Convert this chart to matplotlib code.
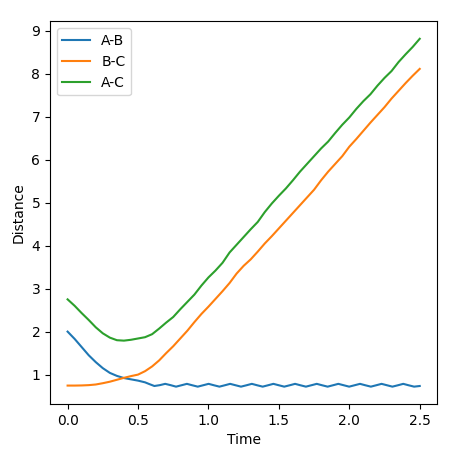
import numpy as np
import matplotlib
matplotlib.use('Agg')
import matplotlib.pyplot as plt

# A-B distance (own time points, oscillation after t~0.6)
t_ab = [0.0, 0.05, 0.10, 0.15, 0.20, 0.25, 0.30, 0.35, 0.40, 0.45, 0.50, 0.55, 0.58,
        0.616, 0.655, 0.693, 0.731, 0.770, 0.808, 0.847, 0.885, 0.924, 0.962,
        1.001, 1.039, 1.078, 1.116, 1.154, 1.193, 1.231, 1.270, 1.308, 1.346,
        1.385, 1.423, 1.461, 1.500, 1.538, 1.577, 1.615, 1.653, 1.692, 1.730,
        1.769, 1.807, 1.846, 1.884, 1.922, 1.961, 1.999, 2.037, 2.076, 2.114,
        2.153, 2.191, 2.229, 2.268, 2.306, 2.345, 2.383, 2.421, 2.460, 2.500]
ab = [2.00, 1.83, 1.64, 1.45, 1.29, 1.15, 1.04, 0.97, 0.92, 0.89, 0.86, 0.82, 0.78,
      0.735, 0.755, 0.785, 0.755, 0.72, 0.752, 0.785, 0.752, 0.72, 0.752,
      0.785, 0.752, 0.72, 0.752, 0.785, 0.752, 0.72, 0.752, 0.785, 0.752,
      0.72, 0.752, 0.785, 0.752, 0.72, 0.752, 0.785, 0.752, 0.72, 0.752,
      0.785, 0.752, 0.72, 0.752, 0.785, 0.752, 0.72, 0.752, 0.785, 0.752,
      0.72, 0.752, 0.785, 0.752, 0.72, 0.752, 0.785, 0.752, 0.72, 0.735]

# B-C and A-C sampled every 0.05
t = [0.00, 0.05, 0.10, 0.15, 0.20, 0.25, 0.30, 0.35, 0.40, 0.45,
     0.50, 0.55, 0.60, 0.65, 0.70, 0.75, 0.80, 0.85, 0.90, 0.95,
     1.00, 1.05, 1.10, 1.15, 1.20, 1.25, 1.30, 1.35, 1.40, 1.45,
     1.50, 1.55, 1.60, 1.65, 1.70, 1.75, 1.80, 1.85, 1.90, 1.95,
     2.00, 2.05, 2.10, 2.15, 2.20, 2.25, 2.30, 2.35, 2.40, 2.45, 2.50]
bc = [0.745, 0.745, 0.748, 0.755, 0.77, 0.80, 0.835, 0.88, 0.925, 0.965,
      1.00, 1.08, 1.19, 1.33, 1.50, 1.66, 1.84, 2.02, 2.22, 2.41,
      2.58, 2.76, 2.94, 3.13, 3.35, 3.53, 3.68, 3.86, 4.05, 4.22,
      4.40, 4.58, 4.76, 4.94, 5.12, 5.30, 5.52, 5.72, 5.90, 6.08,
      6.30, 6.48, 6.67, 6.86, 7.04, 7.22, 7.42, 7.60, 7.78, 7.95, 8.11]
ac = [2.75, 2.60, 2.43, 2.27, 2.10, 1.96, 1.86, 1.80, 1.79, 1.81,
      1.84, 1.87, 1.94, 2.07, 2.21, 2.34, 2.52, 2.69, 2.86, 3.07,
      3.26, 3.42, 3.60, 3.84, 4.02, 4.20, 4.38, 4.55, 4.78, 4.98,
      5.16, 5.33, 5.52, 5.72, 5.90, 6.08, 6.26, 6.42, 6.62, 6.81,
      6.98, 7.18, 7.36, 7.52, 7.72, 7.90, 8.06, 8.27, 8.45, 8.62, 8.81]

fig = plt.figure(figsize=(4.65, 4.55), dpi=100)
ax = fig.add_axes([0.1075, 0.112, 0.833, 0.841])

ax.plot(t_ab, ab, label='A-B')
ax.plot(t, bc, label='B-C')
ax.plot(t, ac, label='A-C')
ax.set_xlabel('Time')
ax.set_ylabel('Distance')
ax.legend(loc='upper left')

fig.savefig('out.png', dpi=100)
